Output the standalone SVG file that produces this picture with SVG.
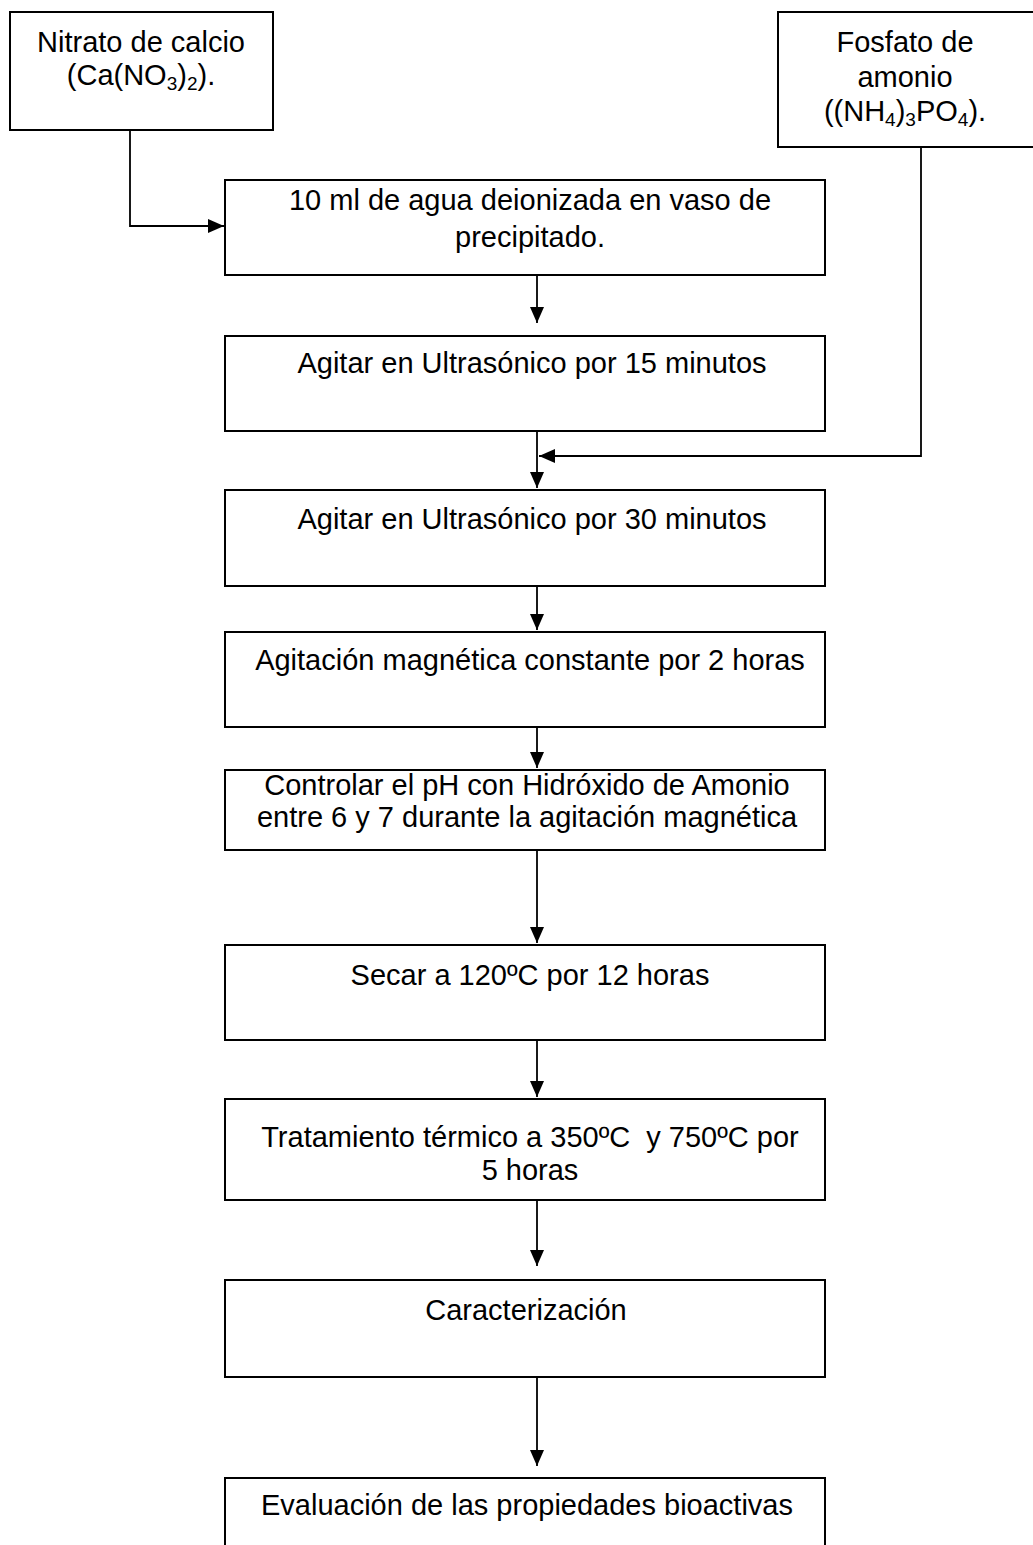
<svg xmlns="http://www.w3.org/2000/svg" width="1033" height="1545" viewBox="0 0 1033 1545">
  <style>
    .box { fill: #ffffff; stroke: #000000; stroke-width: 2; }
    .lbl { font-family: "Liberation Sans", Arial, sans-serif; font-size: 29px; fill: #000000; text-anchor: middle; }
    .sub { font-size: 19px; }
    .wire { fill: none; stroke: #000000; stroke-width: 1.8; }
  </style>
  <defs>
    <marker id="arrow" viewBox="0 0 16 14" refX="16" refY="7" markerWidth="16" markerHeight="14" markerUnits="userSpaceOnUse" orient="auto">
      <path d="M0,0 L16,7 L0,14 Z" fill="#000000"/>
    </marker>
  </defs>
  <rect width="1033" height="1545" fill="#ffffff"/>

  <!-- connectors -->
  <g id="connectors">
    <polyline class="wire" points="130,130 130,226 224,226" marker-end="url(#arrow)"/>
    <polyline class="wire" points="921,147 921,456 539,456" marker-end="url(#arrow)"/>
    <line class="wire" x1="537" y1="275" x2="537" y2="323" marker-end="url(#arrow)"/>
    <line class="wire" x1="537" y1="431" x2="537" y2="488" marker-end="url(#arrow)"/>
    <line class="wire" x1="537" y1="586" x2="537" y2="630" marker-end="url(#arrow)"/>
    <line class="wire" x1="537" y1="727" x2="537" y2="768" marker-end="url(#arrow)"/>
    <line class="wire" x1="537" y1="850" x2="537" y2="943" marker-end="url(#arrow)"/>
    <line class="wire" x1="537" y1="1040" x2="537" y2="1097" marker-end="url(#arrow)"/>
    <line class="wire" x1="537" y1="1200" x2="537" y2="1266" marker-end="url(#arrow)"/>
    <line class="wire" x1="537" y1="1377" x2="537" y2="1466" marker-end="url(#arrow)"/>
  </g>

  <g id="nitrato">
    <rect class="box" x="10" y="12" width="263" height="118"/>
    <text class="lbl" x="141" y="52">Nitrato de calcio</text>
    <text class="lbl" x="141" y="85">(Ca(NO<tspan class="sub" dy="5">3</tspan><tspan dy="-5">)</tspan><tspan class="sub" dy="5">2</tspan><tspan dy="-5">).</tspan></text>
  </g>

  <g id="fosfato">
    <rect class="box" x="778" y="12" width="270" height="135"/>
    <text class="lbl" x="905" y="52">Fosfato de</text>
    <text class="lbl" x="905" y="87">amonio</text>
    <text class="lbl" x="905" y="121">((NH<tspan class="sub" dy="5">4</tspan><tspan dy="-5">)</tspan><tspan class="sub" dy="5">3</tspan><tspan dy="-5">PO</tspan><tspan class="sub" dy="5">4</tspan><tspan dy="-5">).</tspan></text>
  </g>

  <g id="agua">
    <rect class="box" x="225" y="180" width="600" height="95"/>
    <text class="lbl" x="530" y="210">10 ml de agua deionizada en vaso de</text>
    <text class="lbl" x="530" y="247">precipitado.</text>
  </g>

  <g id="ultrasonico15">
    <rect class="box" x="225" y="336" width="600" height="95"/>
    <text class="lbl" x="532" y="373">Agitar en Ultrasónico por 15 minutos</text>
  </g>

  <g id="ultrasonico30">
    <rect class="box" x="225" y="490" width="600" height="96"/>
    <text class="lbl" x="532" y="529">Agitar en Ultrasónico por 30 minutos</text>
  </g>

  <g id="agitacion">
    <rect class="box" x="225" y="632" width="600" height="95"/>
    <text class="lbl" x="530" y="670">Agitación magnética constante por 2 horas</text>
  </g>

  <g id="ph">
    <rect class="box" x="225" y="770" width="600" height="80"/>
    <text class="lbl" x="527" y="795">Controlar el pH con Hidróxido de Amonio</text>
    <text class="lbl" x="527" y="827">entre 6 y 7 durante la agitación magnética</text>
  </g>

  <g id="secar">
    <rect class="box" x="225" y="945" width="600" height="95"/>
    <text class="lbl" x="530" y="985">Secar a 120ºC por 12 horas</text>
  </g>

  <g id="tratamiento">
    <rect class="box" x="225" y="1099" width="600" height="101"/>
    <text class="lbl" x="530" y="1147">Tratamiento térmico a 350ºC&#160; y 750ºC por</text>
    <text class="lbl" x="530" y="1180">5 horas</text>
  </g>

  <g id="caracterizacion">
    <rect class="box" x="225" y="1280" width="600" height="97"/>
    <text class="lbl" x="526" y="1320">Caracterización</text>
  </g>

  <g id="evaluacion">
    <rect class="box" x="225" y="1478" width="600" height="100"/>
    <text class="lbl" x="527" y="1515">Evaluación de las propiedades bioactivas</text>
  </g>
</svg>
